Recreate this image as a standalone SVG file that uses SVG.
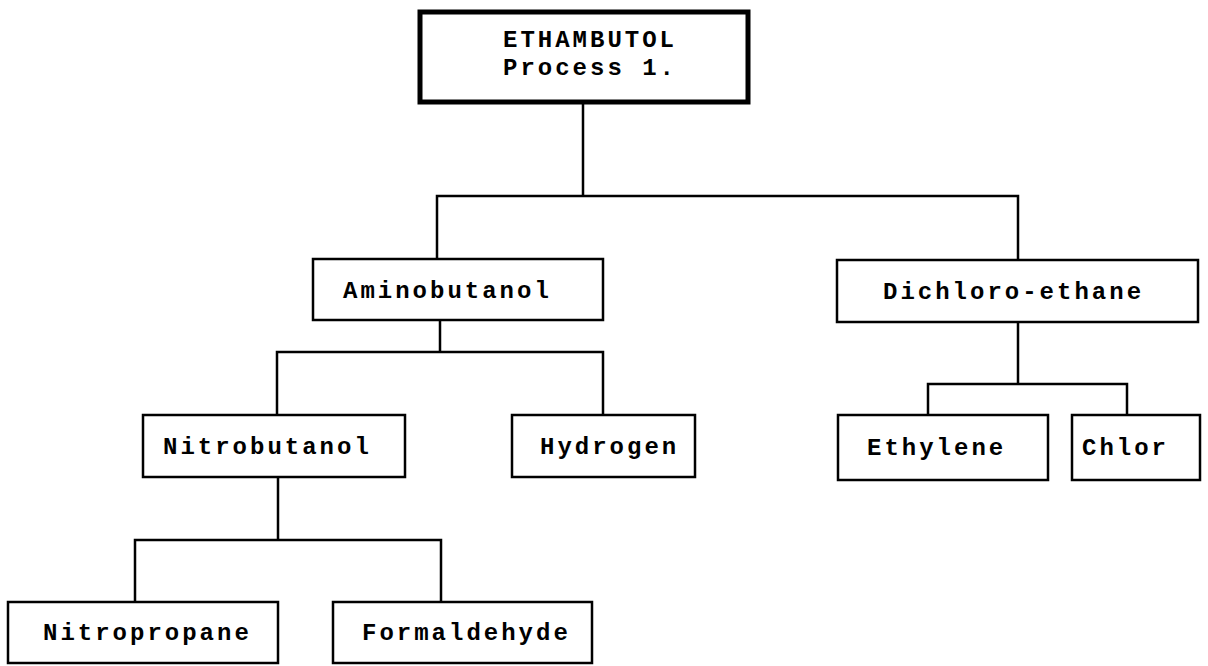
<svg xmlns="http://www.w3.org/2000/svg" width="1208" height="666" viewBox="0 0 1208 666">
  <style>
    .box { fill: #ffffff; stroke: #000000; stroke-width: 2.5; }
    .main { fill: #ffffff; stroke: #000000; stroke-width: 5; }
    .lbl { font-family: "Liberation Mono", "DejaVu Sans Mono", monospace; font-size: 24px; font-weight: bold; letter-spacing: 3px; fill: #000000; }
    .wire { fill: none; stroke: #000000; stroke-width: 2.5; stroke-linecap: square; }
  </style>
  <rect width="1208" height="666" fill="#ffffff"/>

  <!-- tree connectors -->
  <g id="connectors">
    <path class="wire" d="M583 102 V196 M437 196 H1018 M437 196 V259 M1018 196 V260"/>
    <path class="wire" d="M440 320 V352 M277 352 H603 M277 352 V415 M603 352 V415"/>
    <path class="wire" d="M278 477 V540 M135 540 H441 M135 540 V602 M441 540 V602"/>
    <path class="wire" d="M1018 322 V384 M928 384 H1127 M928 384 V415 M1127 384 V415"/>
  </g>

  <g id="ethambutol">
    <rect class="main" x="420" y="12" width="328" height="90"/>
    <text class="lbl" x="503" y="47">ETHAMBUTOL</text>
    <text class="lbl" x="503" y="75">Process 1.</text>
  </g>

  <g id="aminobutanol">
    <rect class="box" x="313" y="259" width="290" height="61"/>
    <text class="lbl" x="343" y="298">Aminobutanol</text>
  </g>

  <g id="dichloroethane">
    <rect class="box" x="837" y="260" width="361" height="62"/>
    <text class="lbl" x="883" y="299">Dichloro-ethane</text>
  </g>

  <g id="nitrobutanol">
    <rect class="box" x="143" y="415" width="262" height="62"/>
    <text class="lbl" x="163" y="454">Nitrobutanol</text>
  </g>

  <g id="hydrogen">
    <rect class="box" x="512" y="415" width="183" height="62"/>
    <text class="lbl" x="540" y="454">Hydrogen</text>
  </g>

  <g id="ethylene">
    <rect class="box" x="838" y="415" width="210" height="65"/>
    <text class="lbl" x="867" y="455">Ethylene</text>
  </g>

  <g id="chlor">
    <rect class="box" x="1072" y="415" width="128" height="65"/>
    <text class="lbl" x="1082" y="455">Chlor</text>
  </g>

  <g id="nitropropane">
    <rect class="box" x="8" y="602" width="270" height="61"/>
    <text class="lbl" x="43" y="640">Nitropropane</text>
  </g>

  <g id="formaldehyde">
    <rect class="box" x="333" y="602" width="259" height="61"/>
    <text class="lbl" x="362" y="640">Formaldehyde</text>
  </g>
</svg>
